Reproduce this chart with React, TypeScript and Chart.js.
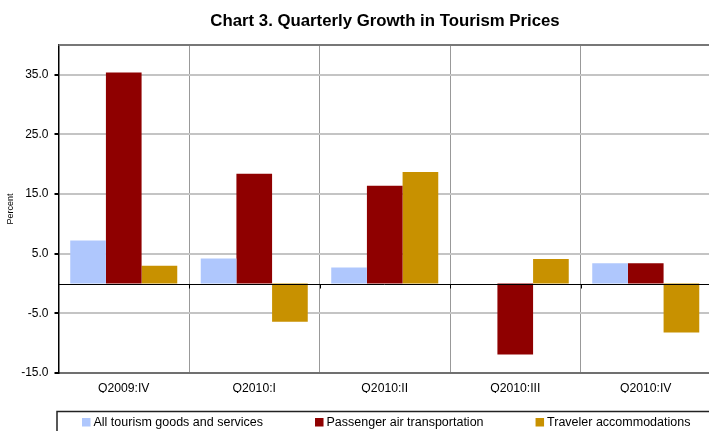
import React, { useEffect, useRef } from "react";
import { Chart, registerables } from "chart.js";

Chart.register(...registerables);

const chartTitle = "Chart 3. Quarterly Growth in Tourism Prices";
const categories = ["Q2009:IV", "Q2010:I", "Q2010:II", "Q2010:III", "Q2010:IV"];
const allTourism = [7.2, 4.2, 2.7, 0, 3.4];
const passengerAir = [35.4, 18.4, 16.4, -11.9, 3.4];
const travelerAccom = [3.0, -6.4, 18.7, 4.1, -8.2];
const yTicks = [-15, -5, 5, 15, 25, 35];
const seriesNames = [
  "All tourism goods and services",
  "Passenger air transportation",
  "Traveler accommodations",
];
const seriesColors = ["#afc7fd", "#8f0000", "#c89100"];

const FONT = "'Liberation Sans', Arial, sans-serif";

const decorPlugin = {
  id: "decor",
  afterDraw(chart: any) {
    const { ctx, chartArea } = chart;
    const y = chart.scales.y;
    const x = chart.scales.x;
    ctx.save();
    // top border
    ctx.strokeStyle = "#777777";
    ctx.lineWidth = 2;
    ctx.beginPath();
    ctx.moveTo(chartArea.left, chartArea.top);
    ctx.lineTo(chartArea.right, chartArea.top);
    ctx.stroke();
    // zero line
    const y0 = Math.round(y.getPixelForValue(0)) + 0.5;
    ctx.strokeStyle = "#000000";
    ctx.lineWidth = 1;
    ctx.beginPath();
    ctx.moveTo(chartArea.left, y0);
    ctx.lineTo(chartArea.right, y0);
    ctx.stroke();
    // small ticks on zero line at category boundaries
    const n = categories.length;
    for (let i = 1; i < n; i++) {
      const xb = Math.round((x.getPixelForValue(i - 1) + x.getPixelForValue(i)) / 2) + 0.5;
      ctx.beginPath();
      ctx.moveTo(xb, y0);
      ctx.lineTo(xb, y0 + 4);
      ctx.stroke();
    }
    // title
    ctx.font = "bold 16.8px " + FONT;
    ctx.fillStyle = "#000";
    ctx.textAlign = "center";
    ctx.textBaseline = "middle";
    ctx.fillText(chartTitle, 385, 21);

    // legend
    const top = 411.5;
    ctx.strokeStyle = "#222222";
    ctx.lineWidth = 1.5;
    ctx.beginPath();
    ctx.moveTo(57, chart.height);
    ctx.lineTo(57, top);
    ctx.lineTo(chart.width, top);
    ctx.stroke();
    ctx.font = "12.5px " + FONT;
    ctx.textAlign = "left";
    let lx = 82;
    chart.data.datasets.forEach((ds: any) => {
      ctx.fillStyle = ds.backgroundColor;
      ctx.fillRect(lx, 418, 8.5, 8.5);
      ctx.fillStyle = "#000";
      ctx.fillText(ds.label, lx + 11.5, 422.5);
      lx += 11.5 + ctx.measureText(ds.label).width + 52;
    });
    ctx.restore();
  },
};

export default function App() {
  const ref = useRef<HTMLCanvasElement>(null);
  useEffect(() => {
    if (!ref.current) return;
    const chart = new Chart(ref.current, {
      type: "bar",
      data: {
        labels: categories,
        datasets: [
          { label: seriesNames[0], data: allTourism, backgroundColor: seriesColors[0] },
          { label: seriesNames[1], data: passengerAir, backgroundColor: seriesColors[1] },
          { label: seriesNames[2], data: travelerAccom, backgroundColor: seriesColors[2] },
        ],
      },
      options: {
        animation: false,
        responsive: false,
        maintainAspectRatio: false,
        layout: { padding: { top: 45, bottom: 38, left: 0, right: 0 } },
        datasets: { bar: { categoryPercentage: 0.82, barPercentage: 1.0, borderWidth: 0 } },
        plugins: {
          legend: { display: false },
          title: { display: false },
          tooltip: { enabled: false },
        },
        scales: {
          x: {
            grid: { color: "#999999", lineWidth: 1, drawTicks: false, offset: true },
            border: { display: true, color: "#707070", width: 2 },
            ticks: { color: "#000", font: { family: FONT, size: 12.2 }, padding: 8 },
            afterFit(axis: any) { axis.height = 20; },
          },
          y: {
            min: -15,
            max: 40,
            afterBuildTicks(axis: any) {
              axis.ticks = yTicks.map((v) => ({ value: v }));
            },
            grid: { color: "#c4c4c4", lineWidth: 2, tickColor: "#000", tickLength: 4 },
            border: { display: true, color: "#000", width: 1.5 },
            ticks: {
              color: "#000",
              font: { family: FONT, size: 12 },
              padding: 6,
              callback: (v: any) => Number(v).toFixed(1),
            },
            title: {
              display: true,
              text: "Percent",
              color: "#000",
              font: { family: FONT, size: 9 },
              padding: 5,
            },
            afterFit(axis: any) { axis.width = 58.5; },
          },
        },
      },
      plugins: [decorPlugin],
    });
    return () => chart.destroy();
  }, []);
  return (
    <div style={{ position: "absolute", left: 0, top: 0, width: 709, height: 431, overflow: "hidden" }}>
      <canvas ref={ref} width={711} height={431} style={{ display: "block" }} />
    </div>
  );
}
